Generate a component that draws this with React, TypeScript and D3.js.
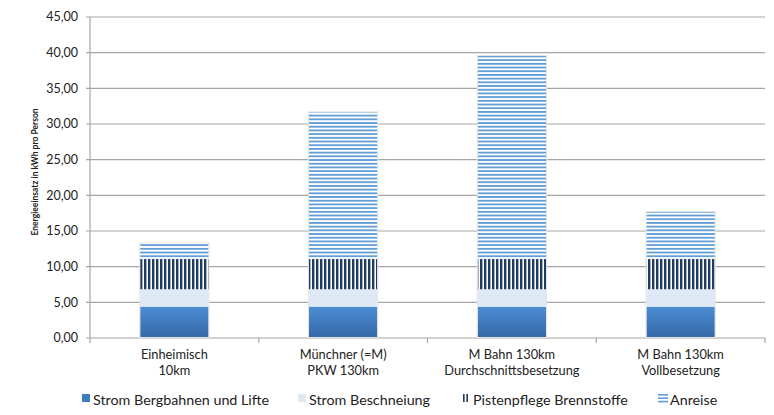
import * as d3 from "d3";

const categories = [
  ["Einheimisch", "10km"],
  ["Münchner (=M)", "PKW 130km"],
  ["M Bahn 130km", "Durchschnittsbesetzung"],
  ["M Bahn 130km", "Vollbesetzung"],
];
const seriesNames = ["Strom Bergbahnen und Lifte", "Strom Beschneiung", "Pistenpflege Brennstoffe", "Anreise"];
const stromBergbahnen = [4.39, 4.39, 4.39, 4.39];
const stromBeschneiung = [2.44, 2.44, 2.44, 2.44];
const pistenpflege = [4.24, 4.24, 4.24, 4.24];
const anreise = [2.2, 20.57, 28.46, 6.59];
const yTicks = [0, 5, 10, 15, 20, 25, 30, 35, 40, 45];

const W = 774;
const H = 415;
const m = { left: 90, right: 9, top: 17, bottom: 77 };
const FONT = "Lato, 'Open Sans', sans-serif";

export default function App() {
  const x = d3.scaleBand<number>().domain(d3.range(categories.length)).range([m.left, W - m.right]).padding(0);
  const y = d3.scaleLinear().domain([0, 45]).range([H - m.bottom, m.top]);
  const barW = x.bandwidth() * 0.405;

  const rows = categories.map((_, i) => ({
    s0: stromBergbahnen[i],
    s1: stromBeschneiung[i],
    s2: pistenpflege[i],
    s3: anreise[i],
  }));
  const stack = d3.stack<any>().keys(["s0", "s1", "s2", "s3"])(rows);
  const fills = ["url(#gradBerg)", "#dfe9f5", "url(#patV)", "url(#patH)"];
  const fmt = (v: number) => v.toFixed(2).replace(".", ",");

  // legend icon x and text x
  const legendIcon = [82, 298, 462, 658];
  const legendText = [93, 309, 473, 670];

  return (
    <svg width={W} height={H} style={{ position: "absolute", left: 0, top: 0 }} fontFamily={FONT}>
      <defs>
        <linearGradient id="gradBerg" x1="0" y1="0" x2="0" y2="1">
          <stop offset="0" stopColor="#4c8dd3" />
          <stop offset="1" stopColor="#3468a6" />
        </linearGradient>
        <pattern id="patV" width="4" height="4" patternUnits="userSpaceOnUse">
          <rect width="4" height="4" fill="#ffffff" />
          <rect width="2.4" height="4" fill="#1f3d63" />
        </pattern>
        <pattern id="patH" width="4" height="3.7" patternUnits="userSpaceOnUse">
          <rect width="4" height="3.7" fill="#ffffff" />
          <rect width="4" height="1.8" fill="#5f9cd6" />
        </pattern>
      </defs>
      <rect width={W} height={H} fill="#fff" />

      {yTicks.map((t) => (
        <g key={t}>
          <line x1={m.left - 4} x2={W - m.right} y1={y(t)} y2={y(t)} stroke="#a6a6a6" strokeWidth={1.2} />
          <text x={m.left - 12} y={y(t)} dy="0.35em" textAnchor="end" fontSize={12.5} fill="#222">
            {fmt(t)}
          </text>
        </g>
      ))}
      <line x1={m.left} x2={m.left} y1={m.top} y2={y(0)} stroke="#a6a6a6" strokeWidth={1.2} />
      {d3.range(categories.length + 1).map((i) => {
        const xx = i < categories.length ? (x(i) as number) : W - m.right;
        return <line key={i} x1={xx} x2={xx} y1={y(0)} y2={y(0) + 5} stroke="#a6a6a6" strokeWidth={1.2} />;
      })}

      <text
        transform="translate(38,172) rotate(-90)"
        textAnchor="middle"
        fontSize={8.5}
        fontWeight="bold"
        fill="#222"
      >
        Energieeinsatz in kWh pro Person
      </text>

      {stack.map((layer, li) =>
        layer.map((d, i) => {
          const cx = (x(i) as number) + x.bandwidth() / 2;
          return (
            <rect
              key={`${li}-${i}`}
              x={cx - barW / 2}
              width={barW}
              y={y(d[1])}
              height={y(d[0]) - y(d[1])}
              fill={fills[li]}
            />
          );
        })
      )}
      {stack[3].map((d, i) => {
        const cx = (x(i) as number) + x.bandwidth() / 2;
        return (
          <rect
            key={`o${i}`}
            x={cx - barW / 2 - 0.5}
            width={barW + 1}
            y={y(d[1]) - 0.5}
            height={y(0) - y(d[1])}
            fill="none"
            stroke="#e4e4e4"
            strokeWidth={1}
          />
        );
      })}

      {categories.map((c, i) => {
        const cx = (x(i) as number) + x.bandwidth() / 2;
        return (
          <text key={i} x={cx} textAnchor="middle" fontSize={12.8} fill="#222">
            <tspan x={cx} y={359}>{c[0]}</tspan>
            <tspan x={cx} y={375}>{c[1]}</tspan>
          </text>
        );
      })}

      {seriesNames.map((name, i) => {
        const lx = legendIcon[i];
        const ly = 401;
        return (
          <g key={name}>
            {i === 0 && <rect x={lx} y={ly - 7} width={8} height={8} fill="#3f7cc0" />}
            {i === 1 && <rect x={lx} y={ly - 7} width={8} height={8} fill="#dfe9f5" />}
            {i === 2 && (
              <g>
                <rect x={lx + 1} y={ly - 7} width={1.6} height={8} fill="#1f3d63" />
                <rect x={lx + 4.4} y={ly - 7} width={1.6} height={8} fill="#1f3d63" />
              </g>
            )}
            {i === 3 && (
              <g>
                <rect x={lx} y={ly - 7} width={10} height={1.6} fill="#5f9cd6" />
                <rect x={lx} y={ly - 3.6} width={10} height={1.6} fill="#5f9cd6" />
                <rect x={lx} y={ly - 0.2} width={10} height={1.6} fill="#5f9cd6" />
              </g>
            )}
            <text x={legendText[i]} y={ly} dy="0.3em" fontSize={14.3} fill="#222">
              {name}
            </text>
          </g>
        );
      })}
    </svg>
  );
}
